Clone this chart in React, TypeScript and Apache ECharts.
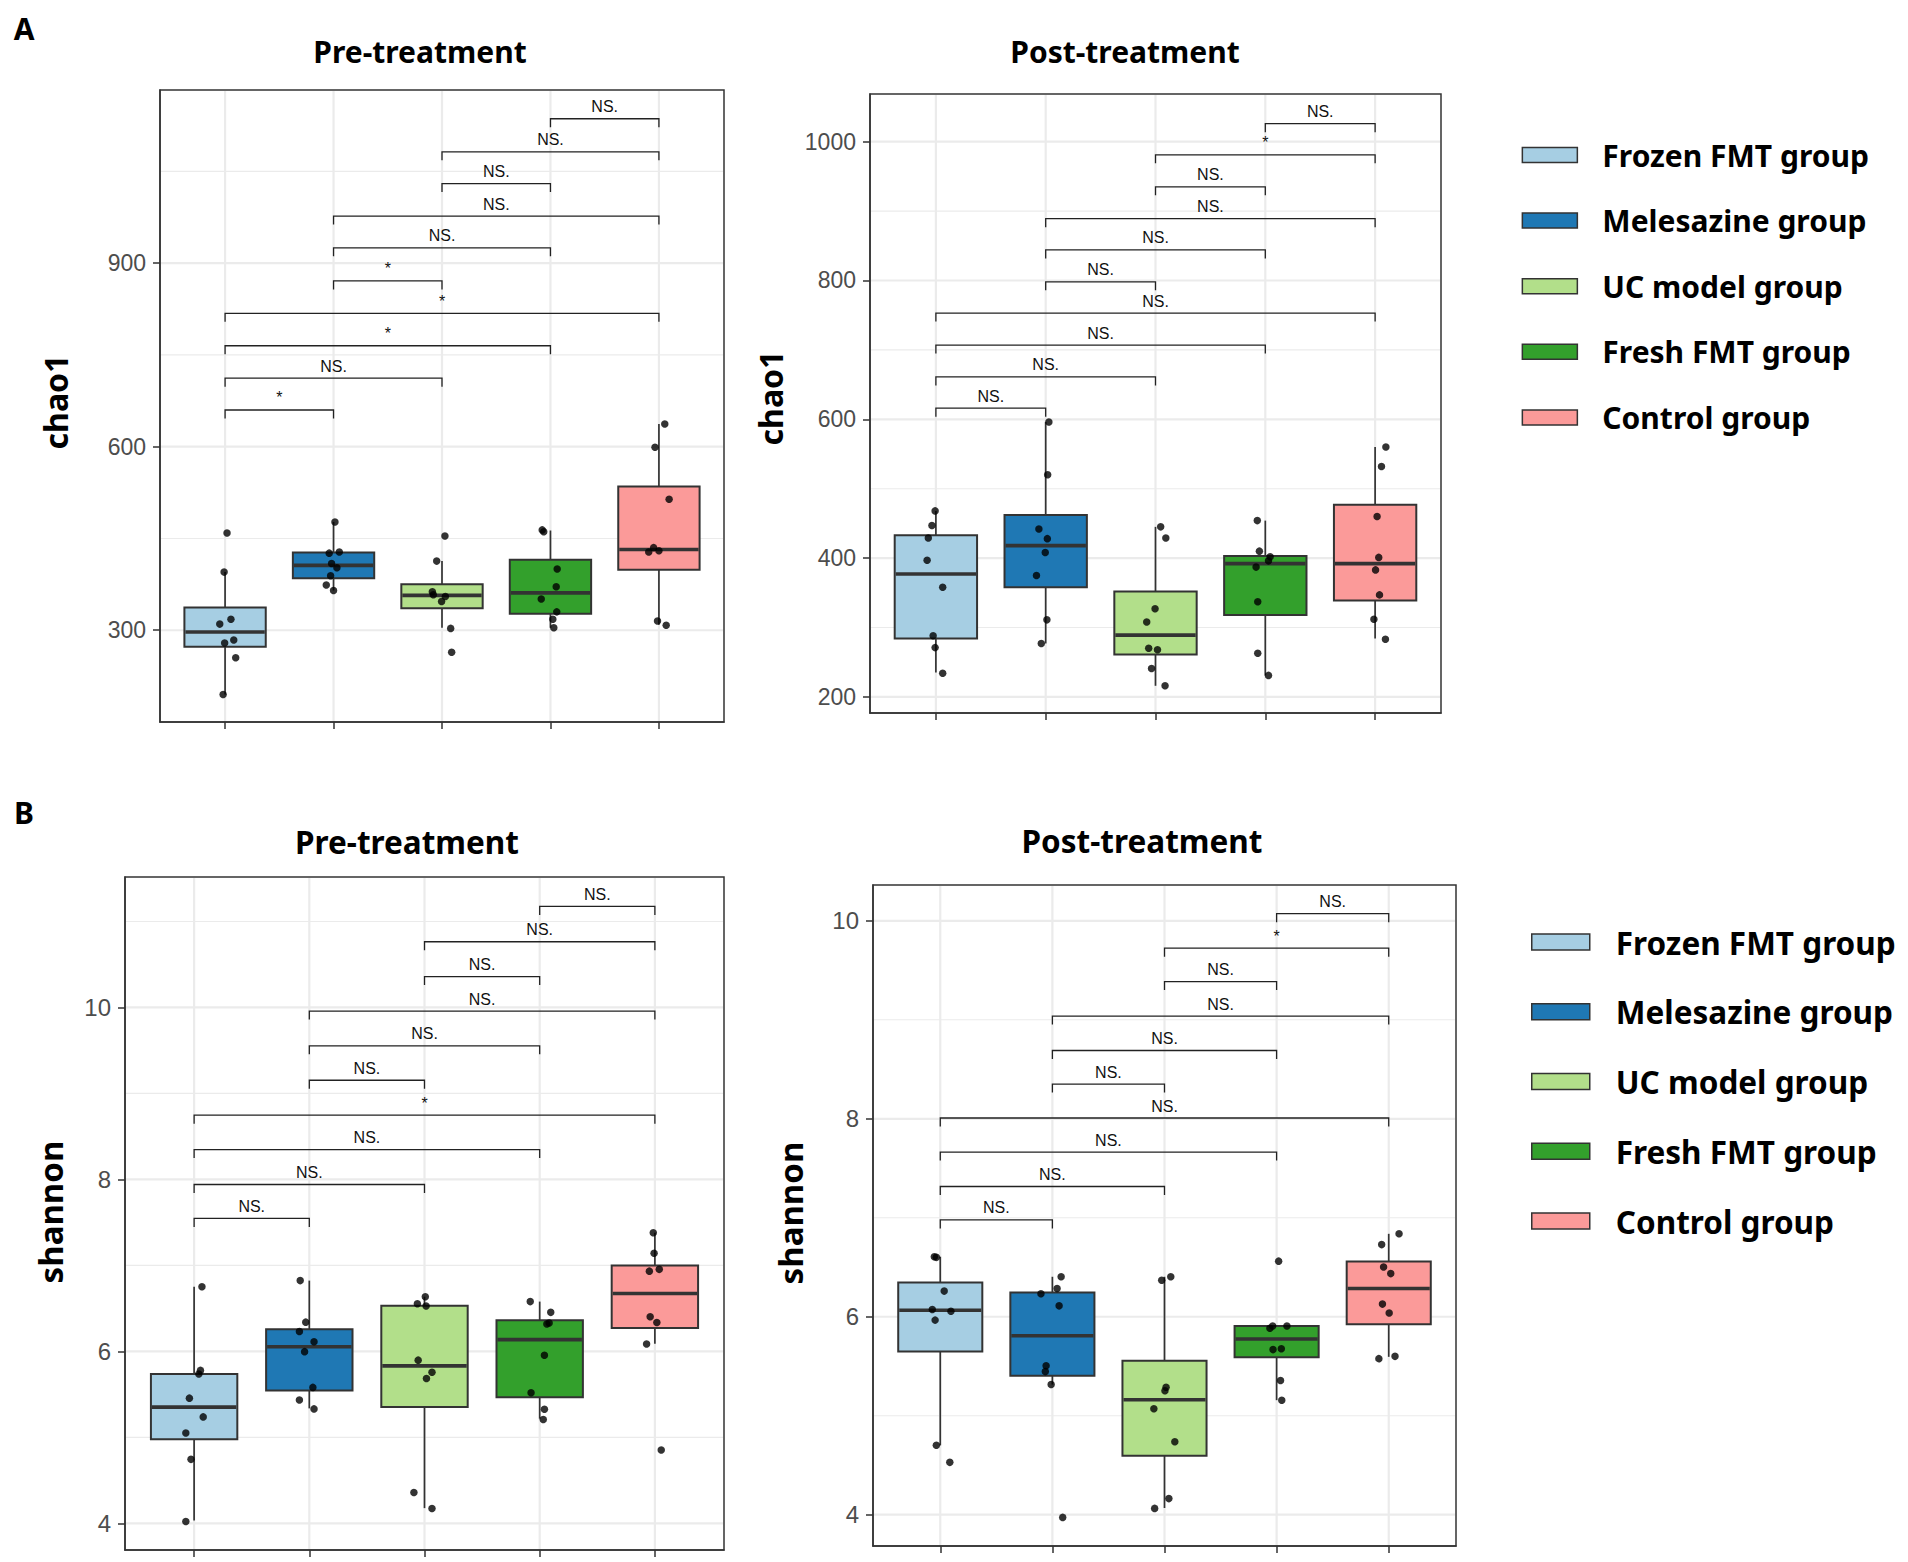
import React, { useEffect, useRef } from "react";
import * as echarts from "echarts";

// ---------- shared categories ----------
const groups = ["Frozen FMT group", "Melesazine group", "UC model group", "Fresh FMT group", "Control group"];
const groupColors = ["#A6CEE3", "#1F78B4", "#B2DF8A", "#33A02C", "#FB9A99"];
const bracketPairs = [[1, 2], [1, 3], [1, 4], [1, 5], [2, 3], [2, 4], [2, 5], [3, 4], [3, 5], [4, 5]];

// ---------- A: chao1, pre-treatment ----------
const chao1PreMajor = [300, 600, 900];
const chao1PreMinor = [450, 750, 1050];
// [lower whisker, Q1, median, Q3, upper whisker]
const chao1PreBox = [
  [195, 273, 297, 337, 395],
  [365, 385, 406, 427, 477],
  [304, 336, 357, 375, 413],
  [304, 327, 361, 415, 463],
  [309, 399, 432, 535, 637],
];
const chao1PrePoints = [
  [459, 395, 318, 310, 284, 279, 255, 195],
  [477, 426, 428, 409, 402, 389, 374, 365],
  [454, 413, 363, 358, 355, 347, 303, 264],
  [464, 461, 400, 371, 351, 330, 318, 304],
  [637, 599, 514, 435, 428, 430, 315, 308],
];
const chao1PreJitter = [
  [0.018, -0.009, 0.054, -0.049, 0.08, -0.004, 0.098, -0.018],
  [0.013, -0.04, 0.053, -0.018, 0.031, -0.027, -0.067, 0],
  [0.027, -0.049, -0.089, -0.08, 0.031, -0.004, 0.08, 0.089],
  [-0.076, -0.062, 0.062, 0.053, -0.085, 0.058, 0.022, 0.031],
  [0.054, -0.036, 0.094, -0.049, -0.094, 0, -0.013, 0.067],
];
const chao1PreBracketY = [660, 712, 765, 818, 871, 925, 977, 1030, 1082, 1136];
const chao1PreSig = ["*", "NS.", "*", "*", "*", "NS.", "NS.", "NS.", "NS.", "NS."];

// ---------- A: chao1, post-treatment ----------
const chao1PostMajor = [200, 400, 600, 800, 1000];
const chao1PostMinor = [300, 500, 700, 900];
const chao1PostBox = [
  [235, 284, 377, 433, 468],
  [277, 358, 418, 462, 596],
  [216, 261, 289, 352, 445],
  [231, 318, 392, 403, 454],
  [284, 339, 392, 477, 560],
];
const chao1PostPoints = [
  [468, 447, 429, 397, 358, 288, 271, 234],
  [596, 520, 442, 428, 408, 375, 311, 277],
  [445, 429, 327, 308, 270, 268, 241, 216],
  [454, 410, 402, 396, 387, 337, 263, 231],
  [560, 532, 460, 401, 383, 347, 312, 283],
];
const chao1PostJitter = [
  [-0.007, -0.036, -0.069, -0.08, 0.062, -0.025, -0.007, 0.062],
  [0.029, 0.018, -0.062, 0.015, -0.004, -0.084, 0.011, -0.04],
  [0.047, 0.094, -0.004, -0.08, -0.062, 0.018, -0.036, 0.087],
  [-0.073, -0.054, 0.044, 0.029, -0.084, -0.069, -0.069, 0.029],
  [0.098, 0.058, 0.018, 0.033, 0.004, 0.04, -0.011, 0.094],
];
const chao1PostBracketY = [616, 661, 707, 753, 798, 844, 889, 935, 981, 1026];
const chao1PostSig = ["NS.", "NS.", "NS.", "NS.", "NS.", "NS.", "NS.", "NS.", "*", "NS."];

// ---------- B: shannon, pre-treatment ----------
const shannonPreMajor = [4, 6, 8, 10];
const shannonPreMinor = [5, 7, 9, 11];
const shannonPreBox = [
  [4.032, 4.978, 5.352, 5.737, 6.751],
  [5.337, 5.545, 6.054, 6.257, 6.823],
  [4.177, 5.352, 5.831, 6.532, 6.636],
  [5.217, 5.467, 6.137, 6.361, 6.579],
  [6.09, 6.272, 6.673, 7.0, 7.38],
];
const shannonPrePoints = [
  [6.751, 5.779, 5.737, 5.456, 5.238, 5.051, 4.744, 4.021],
  [6.823, 6.34, 6.231, 6.111, 5.997, 5.581, 5.435, 5.331],
  [6.636, 6.553, 6.527, 5.898, 5.758, 5.685, 4.359, 4.172],
  [6.579, 6.454, 6.33, 6.319, 5.955, 5.519, 5.326, 5.207],
  [7.38, 7.141, 6.933, 6.954, 6.402, 6.335, 6.085, 4.853],
];
const shannonPreJitter = [
  [0.068, 0.055, 0.041, -0.041, 0.079, -0.072, -0.027, -0.072],
  [-0.079, -0.031, -0.086, 0.041, -0.041, 0.031, -0.086, 0.041],
  [0.007, -0.062, 0.014, -0.055, 0.065, 0.017, -0.092, 0.065],
  [-0.082, 0.096, 0.082, 0.062, 0.041, -0.075, 0.041, 0.031],
  [-0.014, -0.007, -0.048, 0.038, -0.041, 0.017, -0.072, 0.055],
];
const shannonPreBracketY = [7.546, 7.941, 8.347, 8.747, 9.153, 9.553, 9.958, 10.359, 10.764, 11.175];
const shannonPreSig = ["NS.", "NS.", "NS.", "*", "NS.", "NS.", "NS.", "NS.", "NS.", "NS."];

// ---------- B: shannon, post-treatment ----------
const shannonPostMajor = [4, 6, 8, 10];
const shannonPostMinor = [5, 7, 9];
const shannonPostBox = [
  [4.701, 5.649, 6.065, 6.345, 6.607],
  [5.315, 5.405, 5.808, 6.246, 6.404],
  [4.068, 4.597, 5.162, 5.555, 6.404],
  [5.157, 5.591, 5.776, 5.907, 5.907],
  [5.595, 5.925, 6.286, 6.558, 6.838],
];
const shannonPostPoints = [
  [6.607, 6.6, 6.259, 6.074, 6.056, 5.966, 4.701, 4.529],
  [6.404, 6.232, 6.286, 6.11, 5.505, 5.446, 5.315, 3.973],
  [6.404, 6.368, 5.288, 5.252, 5.071, 4.737, 4.163, 4.064],
  [6.562, 5.884, 5.907, 5.907, 5.668, 5.677, 5.356, 5.157],
  [6.838, 6.729, 6.503, 6.436, 6.128, 6.038, 5.6, 5.577],
];
const shannonPostJitter = [
  [-0.053, -0.035, 0.035, -0.071, 0.095, -0.046, -0.035, 0.085],
  [0.078, -0.102, 0.042, 0.06, -0.056, -0.063, -0.011, 0.092],
  [0.056, -0.025, 0.014, 0.004, -0.095, 0.092, 0.039, -0.088],
  [0.018, -0.06, -0.035, 0.092, -0.032, 0.042, 0.035, 0.046],
  [0.092, -0.063, -0.046, 0.018, -0.056, 0.004, 0.056, -0.088],
];
const shannonPostBracketY = [6.978, 7.316, 7.664, 8.008, 8.351, 8.69, 9.038, 9.386, 9.724, 10.072];
const shannonPostSig = ["NS.", "NS.", "NS.", "NS.", "NS.", "NS.", "NS.", "NS.", "*", "NS."];

// ---------- layout ----------
const panels = [
  { grid: { left: 160, top: 90, width: 564, height: 632 }, yMin: 150, yMax: 1183, major: chao1PreMajor, minor: chao1PreMinor, box: chao1PreBox, points: chao1PrePoints, jitter: chao1PreJitter, bY: chao1PreBracketY, sig: chao1PreSig, tickFont: 23 },
  { grid: { left: 870, top: 94, width: 571, height: 619 }, yMin: 176.8, yMax: 1068.7, major: chao1PostMajor, minor: chao1PostMinor, box: chao1PostBox, points: chao1PostPoints, jitter: chao1PostJitter, bY: chao1PostBracketY, sig: chao1PostSig, tickFont: 23 },
  { grid: { left: 125, top: 877, width: 599, height: 673 }, yMin: 3.69, yMax: 11.517, major: shannonPreMajor, minor: shannonPreMinor, box: shannonPreBox, points: shannonPrePoints, jitter: shannonPreJitter, bY: shannonPreBracketY, sig: shannonPreSig, tickFont: 24 },
  { grid: { left: 873, top: 885, width: 583, height: 661 }, yMin: 3.684, yMax: 10.362, major: shannonPostMajor, minor: shannonPostMinor, box: shannonPostBox, points: shannonPostPoints, jitter: shannonPostJitter, bY: shannonPostBracketY, sig: shannonPostSig, tickFont: 24 },
];

const SANS = "'Liberation Sans', Arial, sans-serif";
const HEAD = "'Noto Sans', 'Open Sans', sans-serif";
const DARK = "#333333";

function buildOption() {
  const grid: any[] = [];
  const xAxis: any[] = [];
  const yAxis: any[] = [];
  const series: any[] = [];

  panels.forEach((p, pi) => {
    grid.push({ ...p.grid, show: true, borderColor: DARK, borderWidth: 1.5, backgroundColor: "#fff", containLabel: false });
    xAxis.push({
      type: "value", gridIndex: pi, min: 0.4, max: 5.6,
      axisLine: { show: true, lineStyle: { color: DARK, width: 1.5 } },
      axisTick: { show: true, customValues: [1, 2, 3, 4, 5], length: 7, lineStyle: { color: DARK, width: 1.5 } },
      axisLabel: { show: false },
      splitLine: { show: false },
    });
    yAxis.push({
      type: "value", gridIndex: pi, min: p.yMin, max: p.yMax,
      axisLine: { show: true, lineStyle: { color: DARK, width: 1.5 } },
      axisTick: { show: true, customValues: p.major, length: 7, lineStyle: { color: DARK, width: 1.5 } },
      axisLabel: {
        show: true, customValues: p.major, margin: 14, color: "#4D4D4D", fontSize: p.tickFont, fontFamily: SANS,
        formatter: (v: number) => String(v),
      },
      splitLine: { show: false },
    });

    // grid lines (major / minor horizontal, major vertical)
    const gl: number[][] = [];
    p.major.forEach((v) => gl.push([0, v, 1]));
    p.minor.forEach((v) => gl.push([0, v, 0]));
    [1, 2, 3, 4, 5].forEach((v) => gl.push([1, v, 1]));
    series.push({
      type: "custom", name: "grid-" + pi, xAxisIndex: pi, yAxisIndex: pi, z: 1, silent: true,
      data: gl,
      renderItem: (params: any, api: any) => {
        const cs = params.coordSys;
        const orient = api.value(0), v = api.value(1), maj = api.value(2);
        const style = { stroke: "#EBEBEB", lineWidth: maj ? 2.2 : 1.1 };
        if (orient === 0) {
          const y = api.coord([1, v])[1];
          return { type: "line", shape: { x1: cs.x + 1, y1: y, x2: cs.x + cs.width - 1, y2: y }, style };
        }
        const x = api.coord([v, p.yMin])[0];
        return { type: "line", shape: { x1: x, y1: cs.y + 1, x2: x, y2: cs.y + cs.height - 1 }, style };
      },
    });

    // boxes, one series per group
    p.box.forEach((b, gi) => {
      const color = groupColors[gi];
      series.push({
        type: "custom", name: groups[gi], xAxisIndex: pi, yAxisIndex: pi, z: 2, silent: true,
        itemStyle: { color, borderColor: DARK, borderWidth: 1.5 },
        data: [[gi + 1, ...b]],
        renderItem: (params: any, api: any) => {
          const x = api.value(0);
          const lo = api.value(1), q1 = api.value(2), med = api.value(3), q3 = api.value(4), hi = api.value(5);
          const hw = 0.375;
          const pLo = api.coord([x, lo]);
          const pQ1 = api.coord([x, q1]);
          const pMed = api.coord([x, med]);
          const pQ3 = api.coord([x, q3]);
          const pHi = api.coord([x, hi]);
          const xl = api.coord([x - hw, q3])[0];
          const xr = api.coord([x + hw, q3])[0];
          const lineStyle = { stroke: DARK, lineWidth: 1.7 };
          return {
            type: "group",
            children: [
              { type: "line", shape: { x1: pHi[0], y1: pHi[1], x2: pQ3[0], y2: pQ3[1] }, style: lineStyle },
              { type: "line", shape: { x1: pQ1[0], y1: pQ1[1], x2: pLo[0], y2: pLo[1] }, style: lineStyle },
              { type: "rect", shape: { x: xl, y: pQ3[1], width: xr - xl, height: pQ1[1] - pQ3[1] }, style: { fill: color, stroke: DARK, lineWidth: 2 } },
              { type: "line", shape: { x1: xl + 1, y1: pMed[1], x2: xr - 1, y2: pMed[1] }, style: { stroke: DARK, lineWidth: 3.6 } },
            ],
          };
        },
      });
    });

    // significance brackets
    const bd = bracketPairs.map((pr, k) => [pr[0], pr[1], p.bY[k]]);
    series.push({
      type: "custom", name: "sig-" + pi, xAxisIndex: pi, yAxisIndex: pi, z: 3, silent: true,
      data: bd,
      renderItem: (params: any, api: any) => {
        const x1 = api.value(0), x2 = api.value(1), y = api.value(2);
        const a = api.coord([x1, y]);
        const b = api.coord([x2, y]);
        const t = 8.5;
        return {
          type: "group",
          children: [
            { type: "polyline", shape: { points: [[a[0], a[1] + t], [a[0], a[1]], [b[0], b[1]], [b[0], b[1] + t]] }, style: { stroke: "#222", lineWidth: 1.3, fill: null } },
            { type: "text", x: (a[0] + b[0]) / 2, y: a[1] - 12, style: { text: p.sig[params.dataIndex], fontSize: 16, fontFamily: SANS, fill: "#111", align: "center", verticalAlign: "middle" } },
          ],
        };
      },
    });

    // jittered observations
    const pts: number[][] = [];
    p.points.forEach((vals, gi) => vals.forEach((v, k) => pts.push([gi + 1 + p.jitter[gi][k], v])));
    series.push({
      type: "scatter", name: "obs-" + pi, xAxisIndex: pi, yAxisIndex: pi, z: 4, silent: true,
      symbol: "circle", symbolSize: 7.5, itemStyle: { color: "#000" },
      data: pts,
    });
  });

  const legendBase = (left: number, top: number, fs: number, iw: number, ih: number, gap: number, pad: number) => ({
    orient: "vertical", left, top, padding: 0, itemGap: gap, itemWidth: iw, itemHeight: ih,
    icon: "rect", selectedMode: false,
    textStyle: { fontFamily: HEAD, fontWeight: "bold", fontSize: fs, color: "#000", lineHeight: fs, padding: [0, 0, 0, pad] },
    data: groups.map((g, i) => ({ name: g, itemStyle: { color: groupColors[i], borderColor: DARK, borderWidth: 1.5 } })),
  });

  const txt = (text: string, x: number, y: number, size: number, rot = 0) => ({
    type: "text", x, y, rotation: rot, z: 10, silent: true,
    style: { text, fontFamily: HEAD, fontWeight: "bold", fontSize: size, fill: "#000", align: "center", verticalAlign: "middle" },
  });

  return {
    animation: false,
    backgroundColor: "#fff",
    grid, xAxis, yAxis, series,
    legend: [
      legendBase(1521.6, 140, 30, 55, 15, 35.6, 20),
      legendBase(1531, 926, 31.5, 58, 16, 37.75, 21),
    ],
    graphic: [
      txt("A", 24, 28, 30),
      txt("B", 24, 812, 30),
      txt("Pre-treatment", 420, 51, 30),
      txt("Post-treatment", 1125, 51, 30),
      txt("Pre-treatment", 407, 841, 31.5),
      txt("Post-treatment", 1142, 840, 31.5),
      txt("chao1", 55, 402, 32, Math.PI / 2),
      txt("chao1", 770, 398, 32, Math.PI / 2),
      txt("shannon", 50, 1212, 33, Math.PI / 2),
      txt("shannon", 790, 1213, 33, Math.PI / 2),
    ],
  };
}

export default function App() {
  const ref = useRef<HTMLDivElement>(null);
  useEffect(() => {
    document.body.style.margin = "0";
    const chart = echarts.init(ref.current!, null, { renderer: "svg" });
    chart.setOption(buildOption() as any);
    return () => chart.dispose();
  }, []);
  return <div ref={ref} style={{ width: 1908, height: 1562, background: "#fff" }} />;
}
